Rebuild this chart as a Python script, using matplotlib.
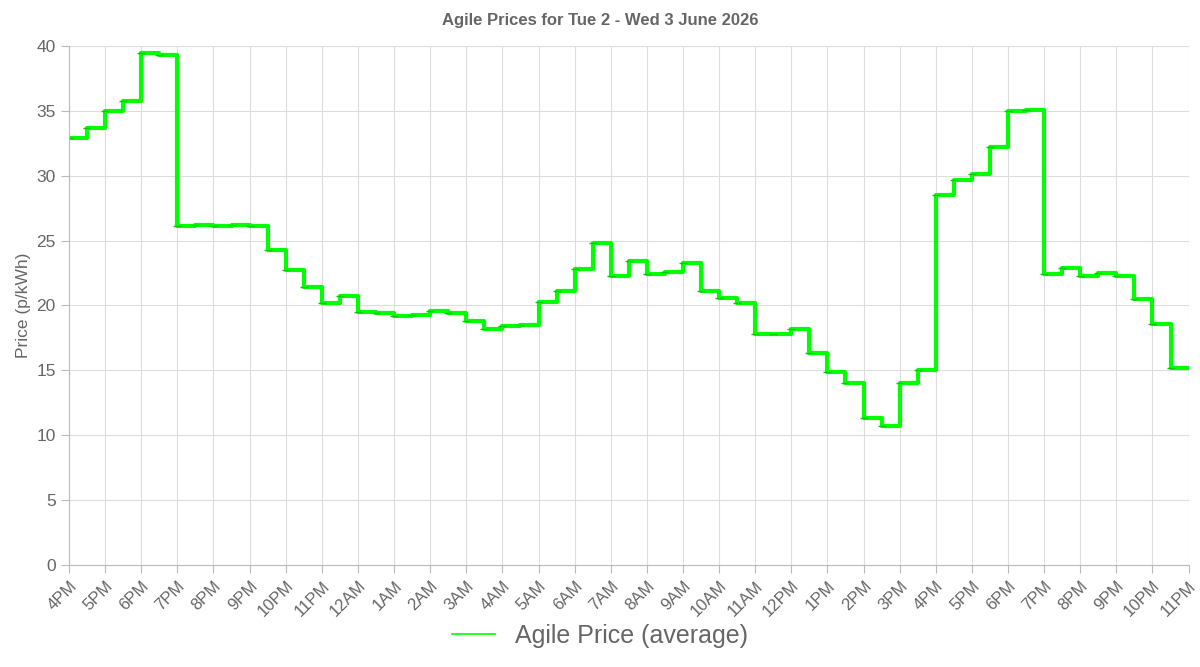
import matplotlib
matplotlib.use("Agg")
import matplotlib.pyplot as plt
import numpy as np

plt.rcParams['font.family'] = ['Liberation Sans', 'DejaVu Sans']

tick_labels = ["4PM","5PM","6PM","7PM","8PM","9PM","10PM","11PM","12AM","1AM","2AM","3AM","4AM","5AM",
               "6AM","7AM","8AM","9AM","10AM","11AM","12PM","1PM","2PM","3PM","4PM","5PM","6PM","7PM",
               "8PM","9PM","10PM","11PM"]
prices = [32.9,33.7,35.0,35.8,39.5,39.3,26.1,26.2,26.1,26.2,26.1,24.3,22.7,21.4,20.2,20.7,
          19.5,19.4,19.2,19.3,19.6,19.4,18.8,18.2,18.4,18.5,20.3,21.1,22.8,24.8,22.3,23.4,
          22.4,22.6,23.3,21.1,20.6,20.2,17.8,17.8,18.2,16.3,14.9,14.0,11.3,10.7,14.0,15.0,
          28.5,29.7,30.1,32.2,35.0,35.1,22.4,22.9,22.3,22.5,22.3,20.5,18.6,15.2]

x = np.arange(len(prices)) * 0.5
xs = np.append(x, x[-1] + 0.5)
ys = np.append(prices, prices[-1])

fig = plt.figure(figsize=(12, 6.67), dpi=100)
ax = fig.add_axes([0.0575, 0.153, 0.933, 0.778])
ax.step(xs, ys, where='post', color='#00ff00', lw=3, label='Agile Price (average)')
ax.plot(x, prices, '_', color='#00cc00', ms=6)
ax.set_xlim(0, 31)
ax.set_ylim(0, 40)
ax.set_xticks(np.arange(len(tick_labels)))
ax.set_xticklabels(tick_labels, rotation=45, ha='right', rotation_mode='anchor', color='#666', fontsize=12)
ax.set_yticks(np.arange(0, 41, 5))
ax.tick_params(axis='y', labelcolor='#666', labelsize=12.5)
ax.grid(color='#dddddd', lw=0.8)
for s in ['top', 'right']:
    ax.spines[s].set_visible(False)
for s in ['left', 'bottom']:
    ax.spines[s].set_color('#bbbbbb')
ax.tick_params(color='#bbbbbb', length=6)
ax.set_ylabel('Price (p/kWh)', color='#666', fontsize=12.5)
fig.suptitle('Agile Prices for Tue 2 - Wed 3 June 2026', y=0.98, fontsize=12, color='#666', fontweight='bold')
leg = fig.legend(loc='lower center', bbox_to_anchor=(0.5, -0.005), frameon=False, fontsize=18,
                 handlelength=1.7, labelcolor='#666')
for l in leg.get_lines():
    l.set_linewidth(1.2)
fig.savefig('out.png', dpi=100)
